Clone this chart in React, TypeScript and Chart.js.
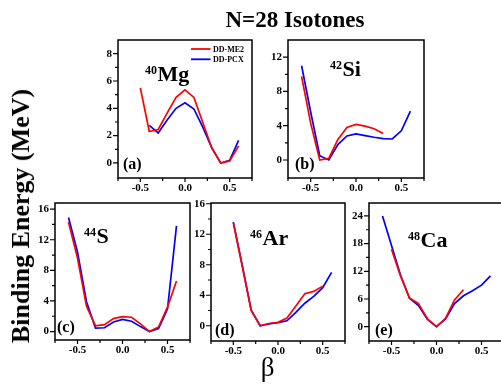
import React, { useEffect, useRef } from 'react';
import { Chart, registerables } from 'chart.js';

Chart.register(...registerables);

const SERIF = '"Liberation Serif", "Times New Roman", serif';

// ---- data ----
const xTicks = [-0.5, 0, 0.5];
const xMinor = [-0.75, -0.25, 0.25, 0.75];

const betaA = [-0.5, -0.4, -0.3, -0.2, -0.1, 0, 0.1, 0.2, 0.3, 0.4, 0.5, 0.6];
const me2A = [5.5, 2.3, 2.45, 3.65, 4.8, 5.35, 4.8, 2.95, 1.1, 0.0, 0.15, 1.25];
const pcxA = [null, 2.75, 2.2, 3.15, 4.0, 4.4, 3.95, 2.6, 1.1, 0.0, 0.2, 1.65];
const yTicksA = [0, 2, 4, 6, 8];
const yMinorA = [1, 3, 5, 7];

const betaB = [-0.6, -0.5, -0.4, -0.3, -0.2, -0.1, 0, 0.1, 0.2, 0.3, 0.4, 0.5, 0.6];
const me2B = [9.75, 4.3, 0.0, 0.2, 2.4, 3.8, 4.15, 3.95, 3.65, 3.1, null, null, null];
const pcxB = [11.0, 5.6, 0.5, 0.0, 1.8, 2.8, 3.05, 2.85, 2.65, 2.5, 2.45, 3.4, 5.7];
const yTicksB = [0, 4, 8, 12];
const yMinorB = [2, 6, 10];

const betaC = [-0.6, -0.5, -0.4, -0.3, -0.2, -0.1, 0, 0.1, 0.2, 0.3, 0.4, 0.5, 0.6];
const me2C = [14.3, 9.6, 3.3, 0.75, 0.9, 1.7, 1.95, 1.87, 1.0, 0.0, 0.6, 3.2, 6.6];
const pcxC = [14.9, 10.4, 3.9, 0.45, 0.5, 1.25, 1.6, 1.35, 0.65, 0.0, 0.4, 2.95, 13.8];
const yTicksC = [0, 4, 8, 12, 16];
const yMinorC = [2, 6, 10, 14];

const betaD = [-0.5, -0.4, -0.3, -0.2, -0.1, 0, 0.1, 0.2, 0.3, 0.4, 0.5, 0.6];
const me2D = [13.5, 7.8, 2.0, 0.0, 0.3, 0.45, 1.0, 2.6, 4.2, 4.5, 5.2, null];
const pcxD = [13.6, 7.9, 2.05, 0.0, 0.25, 0.4, 0.65, 1.75, 2.95, 3.85, 5.0, 7.0];
const yTicksD = [0, 4, 8, 12, 16];
const yMinorD = [2, 6, 10, 14];

const betaE = [-0.6, -0.5, -0.4, -0.3, -0.2, -0.1, 0, 0.1, 0.2, 0.3, 0.4, 0.5, 0.6];
const me2E = [null, 16.8, 11.0, 6.2, 5.0, 1.7, 0.0, 1.8, 5.8, 8.0, null, null, null];
const pcxE = [24.0, 17.6, 11.2, 6.15, 4.6, 1.6, 0.0, 1.7, 5.0, 6.7, 7.8, 9.0, 11.0];
const yTicksE = [0, 6, 12, 18, 24];
const yMinorE = [3, 9, 15, 21];

const seriesNames = ['DD-ME2', 'DD-PCX'];
const seriesColors = ['#ff0000', '#0000ff'];

// ---- layout ----
const L = 34;
const B = 26;
const T = 4;
const R = 4;

type PanelDef = {
  beta: number[];
  me2: (number | null)[];
  pcx: (number | null)[];
  yMin: number;
  yMax: number;
  yTicks: number[];
  yMinor: number[];
  box: { left: number; top: number; w: number; h: number };
  tag: string;
  mass: string;
  elem: string;
  tagX: number;
  tagY: number;
  isoX: number;
  isoY: number;
  legend?: boolean;
};

const panels: PanelDef[] = [
  { beta: betaA, me2: me2A, pcx: pcxA, yMin: -1.1, yMax: 9, yTicks: yTicksA, yMinor: yMinorA,
    box: { left: 118, top: 40, w: 134, h: 138 }, tag: '(a)', mass: '40', elem: 'Mg',
    tagX: 5, tagY: 128.5, isoX: 27, isoY: 41, legend: true },
  { beta: betaB, me2: me2B, pcx: pcxB, yMin: -2.1, yMax: 14, yTicks: yTicksB, yMinor: yMinorB,
    box: { left: 288, top: 40, w: 136, h: 138 }, tag: '(b)', mass: '42', elem: 'Si',
    tagX: 7, tagY: 129, isoX: 42, isoY: 36 },
  { beta: betaC, me2: me2C, pcx: pcxC, yMin: -1.1, yMax: 16.8, yTicks: yTicksC, yMinor: yMinorC,
    box: { left: 55, top: 203, w: 135, h: 137 }, tag: '(c)', mass: '44', elem: 'S',
    tagX: 2, tagY: 129, isoX: 29, isoY: 39.5 },
  { beta: betaD, me2: me2D, pcx: pcxD, yMin: -2, yMax: 16.1, yTicks: yTicksD, yMinor: yMinorD,
    box: { left: 211, top: 203, w: 134, h: 138 }, tag: '(d)', mass: '46', elem: 'Ar',
    tagX: 4, tagY: 132, isoX: 39, isoY: 41.5 },
  { beta: betaE, me2: me2E, pcx: pcxE, yMin: -3.1, yMax: 26.8, yTicks: yTicksE, yMinor: yMinorE,
    box: { left: 369, top: 203, w: 135, h: 138 }, tag: '(e)', mass: '48', elem: 'Ca',
    tagX: 6, tagY: 132, isoX: 39, isoY: 43.5 },
];

function makeDecor(p: PanelDef) {
  return {
    id: 'decor',
    afterDatasetsDraw(chart: any) {
      const { ctx, chartArea: a, scales } = chart;
      const xs = scales.x;
      const ys = scales.y;
      ctx.save();
      ctx.strokeStyle = '#000';
      ctx.lineWidth = 1.5;
      ctx.strokeRect(a.left, a.top, a.right - a.left, a.bottom - a.top);
      ctx.lineWidth = 1.2;
      ctx.beginPath();
      for (const v of xTicks) {
        const px = xs.getPixelForValue(v);
        ctx.moveTo(px, a.bottom);
        ctx.lineTo(px, a.bottom + 4);
      }
      for (const v of xMinor) {
        const px = xs.getPixelForValue(v);
        ctx.moveTo(px, a.bottom);
        ctx.lineTo(px, a.bottom + 3);
      }
      for (const v of p.yTicks) {
        const py = ys.getPixelForValue(v);
        ctx.moveTo(a.left, py);
        ctx.lineTo(a.left - 5, py);
      }
      for (const v of p.yMinor) {
        const py = ys.getPixelForValue(v);
        ctx.moveTo(a.left, py);
        ctx.lineTo(a.left - 3, py);
      }
      ctx.stroke();

      ctx.fillStyle = '#000';
      ctx.textBaseline = 'alphabetic';
      ctx.textAlign = 'left';
      ctx.font = `bold 16px ${SERIF}`;
      ctx.fillText(p.tag, a.left + p.tagX, a.top + p.tagY);
      ctx.font = `bold 12px ${SERIF}`;
      ctx.fillText(p.mass, a.left + p.isoX, a.top + p.isoY - 7);
      const w = ctx.measureText(p.mass).width;
      ctx.font = `bold 22px ${SERIF}`;
      ctx.fillText(p.elem, a.left + p.isoX + w + 0.5, a.top + p.isoY);

      if (p.legend) {
        const rows = [9, 19.3];
        ctx.font = `bold 8px ${SERIF}`;
        ctx.textBaseline = 'middle';
        rows.forEach((dy, i) => {
          ctx.strokeStyle = seriesColors[i];
          ctx.lineWidth = 1.8;
          ctx.beginPath();
          ctx.moveTo(a.left + 73, a.top + dy);
          ctx.lineTo(a.left + 92.5, a.top + dy);
          ctx.stroke();
          ctx.fillStyle = '#000';
          ctx.fillText(seriesNames[i], a.left + 95, a.top + dy + 0.5);
        });
      }
      ctx.restore();
    },
  };
}

function PanelChart({ p }: { p: PanelDef }) {
  const ref = useRef<HTMLCanvasElement | null>(null);
  const width = p.box.w + L + R;
  const height = p.box.h + T + B;
  useEffect(() => {
    if (!ref.current) return;
    const tickFont = { family: SERIF, size: 11, weight: 'bold' as const };
    const chart = new Chart(ref.current, {
      type: 'line',
      data: {
        datasets: [
          {
            label: seriesNames[0],
            data: p.beta.map((b, i) => ({ x: b, y: p.me2[i] })) as any,
            borderColor: seriesColors[0],
            borderWidth: 1.7,
            pointRadius: 0,
            tension: 0,
            fill: false,
          },
          {
            label: seriesNames[1],
            data: p.beta.map((b, i) => ({ x: b, y: p.pcx[i] })) as any,
            borderColor: seriesColors[1],
            borderWidth: 1.7,
            pointRadius: 0,
            tension: 0,
            fill: false,
          },
        ],
      },
      options: {
        animation: false,
        responsive: false,
        events: [],
        layout: { padding: { top: T, right: R, left: 0, bottom: 0 } },
        plugins: { legend: { display: false }, tooltip: { enabled: false } },
        scales: {
          x: {
            type: 'linear',
            min: -0.75,
            max: 0.75,
            bounds: 'data',
            grid: { display: false, drawTicks: false },
            border: { display: false },
            ticks: {
              font: tickFont,
              color: '#000',
              padding: 4,
              maxRotation: 0,
              autoSkip: false,
              callback: (v: any) => Number(v).toFixed(1),
            },
            afterBuildTicks: (s: any) => {
              s.ticks = xTicks.map((v) => ({ value: v }));
            },
            afterFit: (s: any) => {
              s.height = B;
              s.paddingLeft = 0;
              s.paddingRight = 0;
              s.paddingTop = 0;
              s.paddingBottom = 0;
            },
          },
          y: {
            type: 'linear',
            min: p.yMin,
            max: p.yMax,
            bounds: 'data',
            grid: { display: false, drawTicks: false },
            border: { display: false },
            ticks: {
              font: tickFont,
              color: '#000',
              padding: 6,
              autoSkip: false,
              callback: (v: any) => String(v),
            },
            afterBuildTicks: (s: any) => {
              s.ticks = p.yTicks.map((v) => ({ value: v }));
            },
            afterFit: (s: any) => {
              s.width = L;
              s.paddingLeft = 0;
              s.paddingRight = 0;
              s.paddingTop = 0;
              s.paddingBottom = 0;
            },
          },
        },
      } as any,
      plugins: [makeDecor(p)],
    });
    return () => chart.destroy();
  }, [p]);
  return (
    <canvas
      ref={ref}
      width={width}
      height={height}
      style={{
        position: 'absolute',
        left: p.box.left - L,
        top: p.box.top - T,
        width,
        height,
        display: 'block',
      }}
    />
  );
}

export default function App() {
  return (
    <div
      style={{
        position: 'absolute',
        left: 0,
        top: 0,
        width: 501,
        height: 385,
        overflow: 'hidden',
        background: '#fff',
      }}
    >
      {panels.map((p, i) => (
        <PanelChart key={i} p={p} />
      ))}
      <div
        style={{
          position: 'absolute',
          left: 295,
          top: 7.5,
          transform: 'translateX(-50%)',
          font: `bold 23px/23px ${SERIF}`,
          whiteSpace: 'nowrap',
          color: '#000',
        }}
      >
        N=28 Isotones
      </div>
      <div
        style={{
          position: 'absolute',
          left: 21,
          top: 216,
          transform: 'translate(-50%, -50%) rotate(-90deg)',
          font: `bold 26px/30px ${SERIF}`,
          whiteSpace: 'nowrap',
          color: '#000',
        }}
      >
        Binding Energy (MeV)
      </div>
      <div
        style={{
          position: 'absolute',
          left: 267.5,
          top: 354.4,
          transform: 'translateX(-50%)',
          font: `27px/27px ${SERIF}`,
          whiteSpace: 'nowrap',
          color: '#000',
        }}
      >
        β
      </div>
    </div>
  );
}
